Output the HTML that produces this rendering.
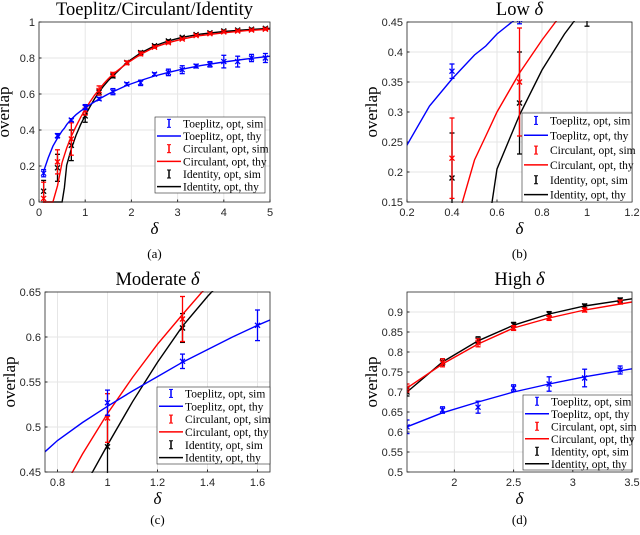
<!DOCTYPE html>
<html><head><meta charset="utf-8"><style>
html,body{margin:0;background:#fff;width:640px;height:535px;overflow:hidden}
svg{display:block}
text{font-family:"Liberation Sans",sans-serif}
.serif{font-family:"Liberation Serif",serif}
</style></head><body>
<svg id="fig" width="640" height="535" viewBox="0 0 640 535" xmlns="http://www.w3.org/2000/svg"></svg>
<script>
// shared data
const simX = [0.1,0.4,0.7,1.0,1.3,1.6,1.9,2.2,2.5,2.8,3.1,3.4,3.7,4.0,4.3,4.6,4.9];
const toepSim = [0.16,0.368,0.455,0.527,0.573,0.613,0.655,0.662,0.71,0.72,0.735,0.755,0.765,0.78,0.78,0.80,0.80];
const toepErr = [0.02,0.012,0.008,0.014,0.008,0.017,0.008,0.015,0.008,0.018,0.022,0.01,0.015,0.035,0.03,0.02,0.025];
const circSim = [0.02,0.223,0.35,0.51,0.62,0.71,0.773,0.823,0.86,0.885,0.905,0.925,0.935,0.945,0.95,0.955,0.96];
const circErr = [0.09,0.067,0.09,0.027,0.025,0.01,0.01,0.01,0.006,0.006,0.005,0.005,0.005,0.005,0.005,0.005,0.005];
const idSim = [0.06,0.19,0.315,0.478,0.61,0.70,0.775,0.83,0.868,0.895,0.915,0.93,0.94,0.95,0.955,0.96,0.965];
const idErr = [0.06,0.075,0.085,0.035,0.016,0.01,0.008,0.008,0.006,0.006,0.005,0.005,0.005,0.005,0.005,0.005,0.005];
const thyX = [0.1,0.2,0.3,0.4,0.5,0.55,0.6,0.7,0.8,0.9,1.0,1.1,1.2,1.3,1.4,1.5,1.6,1.9,2.2,2.5,2.8,3.1,3.5,4,4.5,5];
const toepThy = [0.17,0.245,0.31,0.355,0.395,0.41,0.43,0.46,0.485,0.505,0.523,0.54,0.556,0.572,0.586,0.60,0.613,0.648,0.675,0.70,0.72,0.738,0.758,0.778,0.795,0.81];
const circThy = [0,0,0,0.09,0.22,0.26,0.30,0.365,0.42,0.47,0.515,0.555,0.592,0.625,0.657,0.685,0.71,0.77,0.82,0.86,0.885,0.905,0.925,0.94,0.952,0.96];
const idThy = [0,0,0,0,0,0.08,0.205,0.295,0.37,0.43,0.48,0.528,0.572,0.612,0.645,0.675,0.70,0.775,0.828,0.867,0.895,0.915,0.933,0.947,0.957,0.965];
// panel ticks
const aXTicks=[0,1,2,3,4,5], aYTicks=[0,0.2,0.4,0.6,0.8,1];
const bXTicks=[0.2,0.4,0.6,0.8,1,1.2], bYTicks=[0.15,0.2,0.25,0.3,0.35,0.4,0.45];
const cXTicks=[0.8,1,1.2,1.4,1.6], cYTicks=[0.45,0.5,0.55,0.6,0.65];
const dXTicks=[2,2.5,3,3.5], dYTicks=[0.5,0.55,0.6,0.65,0.7,0.75,0.8,0.85,0.9];
const legendLabels=["Toeplitz, opt, sim","Toeplitz, opt, thy","Circulant, opt, sim","Circulant, opt, thy","Identity, opt, sim","Identity, opt, thy"];

const NS="http://www.w3.org/2000/svg";
const svg=document.getElementById('fig');
function mk(tag,attrs,parent){const e=document.createElementNS(NS,tag);for(const k in attrs)e.setAttribute(k,attrs[k]);(parent||svg).appendChild(e);return e;}

const panels=[
 {id:'a',title:'Toeplitz/Circulant/Identity',x0:39,x1:270,y0:22,y1:202,xmin:0,xmax:5,ymin:0,ymax:1,xt:aXTicks,yt:aYTicks,leg:[155,117,110,76],cap:258},
 {id:'b',title:'Low δ',x0:407,x1:632,y0:22,y1:202,xmin:0.2,xmax:1.2,ymin:0.15,ymax:0.45,xt:bXTicks,yt:bYTicks,leg:[522,113,110,89],cap:258},
 {id:'c',title:'Moderate δ',x0:45,x1:270,y0:292,y1:472,xmin:0.75,xmax:1.65,ymin:0.45,ymax:0.65,xt:cXTicks,yt:cYTicks,leg:[157,387,113,77],cap:524},
 {id:'d',title:'High δ',x0:407,x1:632,y0:292,y1:472,xmin:1.6,xmax:3.5,ymin:0.5,ymax:0.95,xt:dXTicks,yt:dYTicks,leg:[523,395,109,75],cap:524}
];
const colors=['#0000ff','#ff0000','#000000'];
const sims=[[toepSim,toepErr],[circSim,circErr],[idSim,idErr]];
const thys=[toepThy,circThy,idThy];

panels.forEach(p=>{
 const g=mk('g',{});
 
 
 const sx=v=>p.x0+(v-p.xmin)/(p.xmax-p.xmin)*(p.x1-p.x0);
 const sy=v=>p.y1-(v-p.ymin)/(p.ymax-p.ymin)*(p.y1-p.y0);
 const cx=(p.x0+p.x1)/2;
 const t=mk('text',{x:cx,y:p.y0-7,'text-anchor':'middle','font-size':'18.5',class:'serif'},g);
 if(p.title.endsWith('δ')){t.textContent=p.title.slice(0,-1);const ts=mk('tspan',{'font-style':'italic'},t);ts.textContent='δ';}else t.textContent=p.title;
 
 
 p.xt.forEach(v=>{mk('line',{x1:sx(v),x2:sx(v),y1:p.y0,y2:p.y1,stroke:'#e6e6e6','stroke-width':1},g);
  const l=mk('text',{x:sx(v),y:p.y1+14,'text-anchor':'middle','font-size':'11',fill:'#262626'},g);l.textContent=String(v);
  
  
  mk('line',{x1:sx(v),x2:sx(v),y1:p.y1,y2:p.y1-2.5,stroke:'#262626'},g);});
 p.yt.forEach(v=>{mk('line',{x1:p.x0,x2:p.x1,y1:sy(v),y2:sy(v),stroke:'#e6e6e6','stroke-width':1},g);
  const l=mk('text',{x:p.x0-4,y:sy(v)+4,'text-anchor':'end','font-size':'11',fill:'#262626'},g);l.textContent=String(v);
  
  
  mk('line',{x1:p.x0,x2:p.x0+2.5,y1:sy(v),y2:sy(v),stroke:'#262626'},g);});
 const clipId='clip'+p.id;
 const cp=mk('clipPath',{id:clipId},g);mk('rect',{x:p.x0,y:p.y0-1,width:p.x1-p.x0,height:p.y1-p.y0+2},cp);
 const plot=mk('g',{'clip-path':'url(#'+clipId+')'},g);
 
 
 [2,1,0].forEach(s=>{
  const pts=thyX.map((x,i)=>sx(x).toFixed(1)+','+sy(thys[s][i]).toFixed(1)).join(' ');
  const pl=mk('polyline',{points:pts,fill:'none',stroke:colors[s],'stroke-width':1.4},plot);
  
  
  const [v,e]=sims[s];
  simX.forEach((x,i)=>{
   const X=sx(x),Y=sy(v[i]),Ya=sy(v[i]+e[i]),Yb=sy(v[i]-e[i]);
   const eg=mk('g',{stroke:colors[s],'stroke-width':1.3},plot);
   
   
   mk('line',{x1:X,x2:X,y1:Ya,y2:Yb},eg);
   mk('line',{x1:X-2.5,x2:X+2.5,y1:Ya,y2:Ya},eg);
   mk('line',{x1:X-2.5,x2:X+2.5,y1:Yb,y2:Yb},eg);
   mk('line',{x1:X-2.5,x2:X+2.5,y1:Y-2.5,y2:Y+2.5},eg);
   mk('line',{x1:X-2.5,x2:X+2.5,y1:Y+2.5,y2:Y-2.5},eg);
  });
 });
 mk('rect',{x:p.x0,y:p.y0,width:p.x1-p.x0,height:p.y1-p.y0,fill:'none',stroke:'#262626','stroke-width':0.8},g);
 const yl=mk('text',{x:0,y:0,'text-anchor':'middle','font-size':'17',class:'serif',transform:`translate(${p.x0-30},${(p.y0+p.y1)/2}) rotate(-90)`},g);yl.textContent='overlap';
 
 
 const xl=mk('text',{x:cx,y:p.y1+32,'text-anchor':'middle','font-size':'17','font-style':'italic',class:'serif'},g);xl.textContent='δ';
 
 
 const cap=mk('text',{x:cx,y:p.cap,'text-anchor':'middle','font-size':'13',class:'serif'},g);cap.textContent='('+p.id+')';
 
 
 const [lx,ly,lw,lh]=p.leg;
 const lg=mk('g',{},g);
 
 
 mk('rect',{x:lx,y:ly,width:lw,height:lh,fill:'#fff',stroke:'#262626','stroke-width':0.6},lg);
 const rh=lh/6;
 legendLabels.forEach((lab,i)=>{
  const yy=ly+rh*(i+0.5), c=colors[Math.floor(i/2)];
  if(i%2===0){mk('line',{x1:lx+14,x2:lx+14,y1:yy-4,y2:yy+4,stroke:c,'stroke-width':1.5},lg);
   mk('line',{x1:lx+12,x2:lx+16,y1:yy-4,y2:yy-4,stroke:c},lg);mk('line',{x1:lx+12,x2:lx+16,y1:yy+4,y2:yy+4,stroke:c},lg);}
  else mk('line',{x1:lx+2,x2:lx+26,y1:yy,y2:yy,stroke:c,'stroke-width':1.5},lg);
  const tt=mk('text',{x:lx+28,y:yy+4,'font-size':'11.5',class:'serif'},lg);tt.textContent=lab;
  
  
 });
});
</script>
</body></html>
